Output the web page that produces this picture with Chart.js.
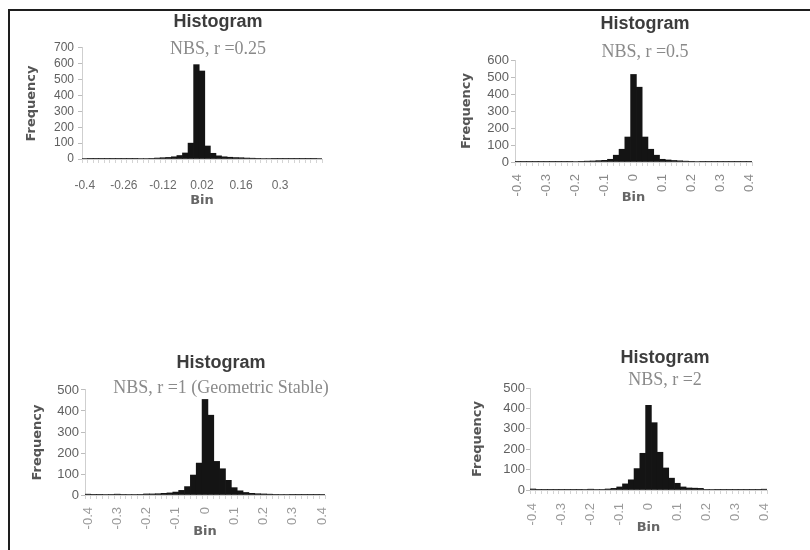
<!DOCTYPE html>
<html>
<head>
<meta charset="utf-8">
<title>Histograms NBS</title>
<script src="https://cdn.jsdelivr.net/npm/chart.js@4.4.1/dist/chart.umd.min.js"></script>
<style>
  html, body { margin: 0; padding: 0; background: #fff; overflow: hidden; }
  #page { position: relative; width: 810px; height: 550px; overflow: hidden; }
  #frame { position: absolute; left: 8px; top: 9px; width: 840px; height: 580px;
           border-top: 2px solid #1e1e1e; border-left: 2px solid #1e1e1e; }
  canvas { position: absolute; }
</style>
</head>
<body>
<div id="page">
  <div id="frame"></div>
  <canvas id="h1" width="396" height="212" style="left:20px;top:0px"></canvas>
  <canvas id="h2" width="380" height="209" style="left:455px;top:0px"></canvas>
  <canvas id="h3" width="402" height="208" style="left:20px;top:335px"></canvas>
  <canvas id="h4" width="410" height="209" style="left:460px;top:330px"></canvas>
</div>
<script>
// bin centres (step 0.02)
const bins = ['-0.4','-0.38','-0.36','-0.34','-0.32','-0.3','-0.28','-0.26','-0.24','-0.22',
  '-0.2','-0.18','-0.16','-0.14','-0.12','-0.1','-0.08','-0.06','-0.04','-0.02',
  '0','0.02','0.04','0.06','0.08','0.1','0.12','0.14','0.16','0.18',
  '0.2','0.22','0.24','0.26','0.28','0.3','0.32','0.34','0.36','0.38','0.4'];
const binsWide = ['-0.4','-0.38','-0.36','-0.34','-0.32','-0.3','-0.28','-0.26','-0.24','-0.22',
  '-0.2','-0.18','-0.16','-0.14','-0.12','-0.1','-0.08','-0.06','-0.04','-0.02',
  '0','0.02','0.04','0.06','0.08','0.1','0.12','0.14','0.16','0.18',
  '0.2','0.22','0.24','0.26','0.28','0.3','0.32','0.34','0.36','0.38','0.4','0.42','0.44'];

// frequencies
const freq025 = [3,1,1,1,1,2,1,1,2,2,3,3,4,6,8,10,14,22,38,100,595,555,82,36,20,14,11,9,8,6,5,4,3,3,2,2,2,1,1,2,1,2,3];
const freq05  = [2,1,1,2,1,2,1,1,1,2,3,4,5,6,8,10,16,40,75,147,515,440,147,75,40,16,12,9,7,5,4,3,2,2,1,1,1,1,1,1,2];
const freq1   = [4,1,1,2,3,4,3,2,2,3,5,5,6,8,10,14,22,40,95,152,455,380,160,125,70,35,20,12,8,6,5,4,3,2,2,1,1,1,1,1,3];
const freq2   = [5,1,1,1,1,1,1,1,1,2,4,2,3,5,8,15,30,50,105,180,415,330,185,108,58,33,15,10,9,8,3,2,1,1,1,1,1,1,1,1,4];

// tick labels shown on the bin axes
const ticksWide = ['-0.4','-0.26','-0.12','0.02','0.16','0.3'];
const ticksTen  = ['-0.4','-0.3','-0.2','-0.1','0','0.1','0.2','0.3','0.4'];

const subtitles = ['NBS, r =0.25', 'NBS, r =0.5', 'NBS, r =1 (Geometric Stable)', 'NBS, r =2'];

Chart.defaults.font.family = '"Liberation Sans", Arial, sans-serif';
Chart.defaults.animation = false;

function makeHist(id, labels, values, shown, sub, g) {
  new Chart(document.getElementById(id), {
    type: 'bar',
    data: {
      labels: labels,
      datasets: [{
        data: values,
        backgroundColor: '#141414',
        borderWidth: 0,
        barPercentage: 1,
        categoryPercentage: 1
      }]
    },
    options: {
      responsive: false,
      layout: { padding: { top: g.top, left: 0, right: 0, bottom: 0 } },
      plugins: {
        legend: { display: false },
        tooltip: { enabled: false },
        title: {
          display: true, text: 'Histogram', color: '#3c3c3c',
          font: { size: 18, weight: 'bold' }, padding: { top: 0, bottom: 0 }
        },
        subtitle: {
          display: true, text: sub, color: '#8a8a8a',
          font: { family: '"Liberation Serif", "Times New Roman", serif', size: 18 },
          padding: { top: g.subTop, bottom: g.subBottom }
        }
      },
      scales: {
        x: {
          grid: { drawOnChartArea: false, tickLength: 4, color: '#d4d4d4' },
          border: { color: '#d0d0d0' },
          ticks: {
            autoSkip: false, minRotation: g.rot, maxRotation: g.rot, padding: g.xPad,
            color: g.xColor, font: { size: g.xFont },
            callback: function (v) {
              const l = this.getLabelForValue(v);
              return shown.includes(l) ? l : '';
            }
          },
          title: { display: true, text: 'Bin', color: '#666', padding: { top: 4, bottom: 4 },
                   font: { family: '"DejaVu Sans", sans-serif', size: 13, weight: 'bold' } },
          afterFit: s => { s.height = g.xH; }
        },
        y: {
          min: 0, max: g.yMax,
          grid: { drawOnChartArea: false, tickLength: 4, color: '#bdbdbd' },
          border: { color: '#cfcfcf' },
          ticks: { stepSize: 100, autoSkip: false, padding: g.yPad, color: '#606060', font: { size: g.yFont } },
          title: { display: true, text: 'Frequency', color: '#555', padding: { top: g.fPad, bottom: 4 },
                   font: { family: '"DejaVu Sans", sans-serif', size: 13, weight: 'bold' } },
          afterFit: s => { s.width = g.yW; }
        },
        gap: {
          type: 'linear', position: 'right', display: true,
          grid: { display: false }, border: { display: false }, ticks: { display: false },
          afterFit: s => { s.width = g.rightGap; }
        }
      }
    }
  });
}

makeHist('h1', binsWide, freq025, ticksWide, subtitles[0],
  { top: 11, subTop: 5.6, subBottom: -11.8, yW: 62, xH: 53, rightGap: 94, yMax: 700,
    rot: 0, xPad: 15, xColor: '#6a6a6a', xFont: 12, yPad: 4, yFont: 12, fPad: 4 });
makeHist('h2', bins, freq05, ticksTen, subtitles[1],
  { top: 13.2, subTop: 6.4, subBottom: -2.8, yW: 60, xH: 47, rightGap: 83, yMax: 600,
    rot: 90, xPad: 8, xColor: '#8a8a8a', xFont: 13, yPad: 2, yFont: 13, fPad: 4 });
makeHist('h3', bins, freq1, ticksTen, subtitles[2],
  { top: 17.2, subTop: 3.4, subBottom: -8.8, yW: 65, xH: 48, rightGap: 97, yMax: 500,
    rot: 90, xPad: 8, xColor: '#9a9a9a', xFont: 13, yPad: 2, yFont: 13, fPad: 10 });
makeHist('h4', bins, freq2, ticksTen, subtitles[3],
  { top: 17.2, subTop: 0.4, subBottom: -2.8, yW: 70, xH: 49, rightGap: 103, yMax: 500,
    rot: 90, xPad: 9, xColor: '#9a9a9a', xFont: 13, yPad: 1, yFont: 13, fPad: 10 });
</script>
</body>
</html>
